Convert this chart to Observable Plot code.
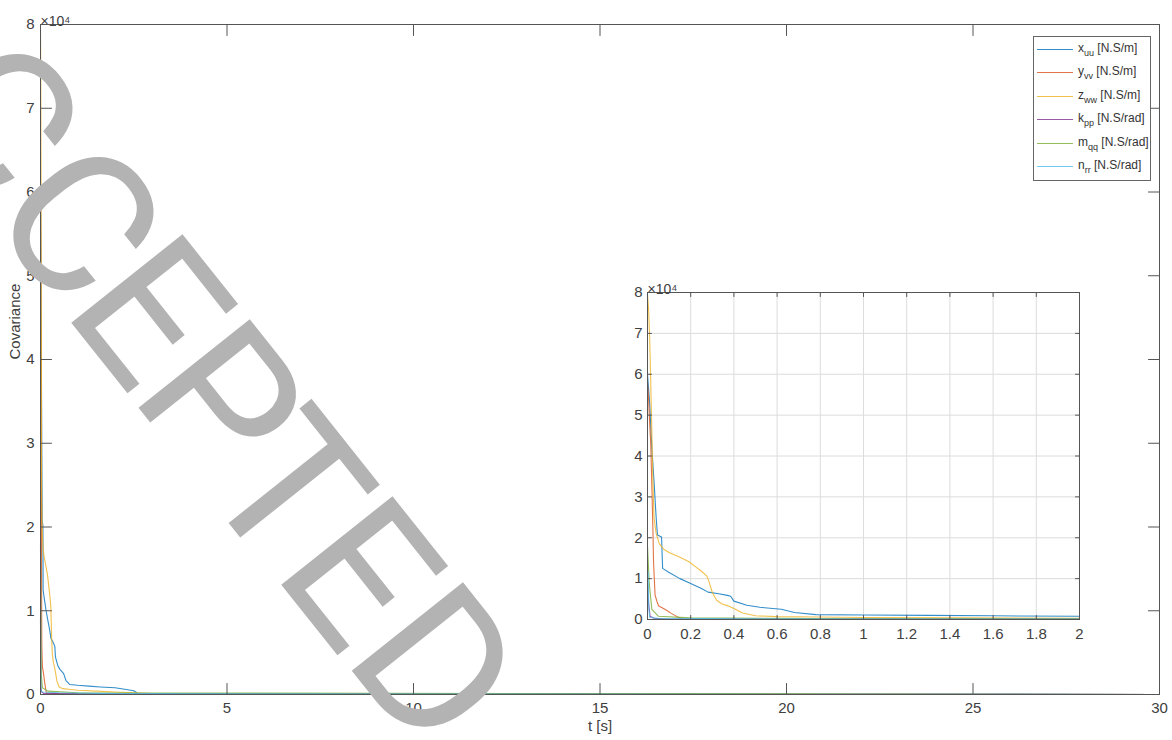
<!DOCTYPE html>
<html>
<head>
<meta charset="utf-8">
<script src="https://cdn.jsdelivr.net/npm/d3@7"></script>
<script src="https://cdn.jsdelivr.net/npm/@observablehq/plot@0.6"></script>
<style>
  html, body { margin: 0; padding: 0; background: #fff; }
  #wrap { position: relative; width: 1172px; height: 740px; overflow: hidden; font-family: "Liberation Sans", Arial, sans-serif; }
  #wrap > * { position: absolute; }
  #legend { left: 1033px; top: 36px; width: 116px; height: 143px; border: 1px solid #666; background: #fff; font-size: 12px; color: #333; }
  .row { position: absolute; left: 0; height: 20px; width: 116px; }
  .row svg { position: absolute; left: 3px; top: 9px; }
  .row span { position: absolute; left: 44px; top: 2px; white-space: nowrap; }
  .row sub { font-size: 9px; vertical-align: -4px; }
</style>
</head>
<body>
<div id="wrap"></div>
<script>
// ---- data (values in units of 10^4) ----
const seriesNames = ["x_uu", "y_vv", "z_ww", "k_pp", "m_qq", "n_rr"];
const seriesUnits = ["[N.S/m]", "[N.S/m]", "[N.S/m]", "[N.S/rad]", "[N.S/rad]", "[N.S/rad]"];
const seriesColors = ["#0072BD", "#D95319", "#EDB120", "#7E2F8E", "#77AC30", "#4DBEEE"];

const tXuu = [0,0.01,0.02,0.03,0.04,0.046,0.065,0.07,0.1,0.15,0.2,0.25,0.28,0.33,0.37,0.385,0.4,0.46,0.52,0.58,0.62,0.68,0.78,1.0,1.3,1.6,2.0,2.3,2.5,2.6,5,10,30];
const xuu  = [6.0,5.3,4.2,3.4,2.5,2.07,2.02,1.25,1.15,1.0,0.88,0.76,0.67,0.63,0.59,0.57,0.45,0.35,0.3,0.27,0.25,0.17,0.12,0.11,0.1,0.09,0.08,0.06,0.045,0.015,0.01,0.005,0];

const tYvv = [0,0.005,0.01,0.015,0.02,0.025,0.028,0.035,0.045,0.052,0.07,0.09,0.11,0.137,0.16,0.5,30];
const yvv  = [5.8,5.4,4.8,4.3,3.3,2.2,1.4,0.6,0.42,0.33,0.28,0.22,0.15,0.07,0.02,0.01,0];

const tZww = [0,0.005,0.01,0.015,0.02,0.025,0.03,0.04,0.055,0.075,0.1,0.15,0.19,0.22,0.25,0.275,0.285,0.3,0.32,0.345,0.37,0.4,0.44,0.5,0.6,0.8,1.0,1.5,2.0,2.5,3,5,30];
const zww  = [7.95,7.6,6.9,5.8,4.6,3.4,2.5,2.1,1.85,1.72,1.64,1.52,1.42,1.3,1.18,1.06,0.92,0.66,0.47,0.38,0.34,0.27,0.16,0.09,0.07,0.06,0.05,0.04,0.03,0.02,0.01,0.005,0];

const tKpp = [0,0.005,0.012,0.03,0.1,30];
const kpp  = [0.9,0.4,0.08,0.03,0.01,0];

const tMqq = [0,0.008,0.02,0.05,0.2,1,30];
const mqq  = [1.8,0.9,0.25,0.08,0.04,0.02,0];

const tNrr = [0,0.003,0.006,0.01,0.05,0.5,2,30];
const nrr  = [1.2,1.15,0.3,0.05,0.03,0.02,0.01,0];

const mainXTicks = [0,5,10,15,20,25,30];
const yTicks = [0,1,2,3,4,5,6,7,8];
const insetXTicks = [0,0.2,0.4,0.6,0.8,1,1.2,1.4,1.6,1.8,2];

const watermarkText = "ACCEPTED";

// ---- build table ----
const times = [tXuu, tYvv, tZww, tKpp, tMqq, tNrr];
const vals = [xuu, yvv, zww, kpp, mqq, nrr];
const rows = [];
seriesNames.forEach((name, i) => {
  times[i].forEach((t, j) => rows.push({series: name, t, v: vals[i][j]}));
});

const tickShape = {draw(context, l) { context.moveTo(0, 0); context.lineTo(0, -l); }};
const font = "'Liberation Sans', Arial, sans-serif";

function boxTicks(xt, yt, xmax, ymax, len, stroke) {
  const o = {length: len, anchor: "start", shape: tickShape, stroke, strokeWidth: 1};
  return [
    Plot.vector(xt, {...o, x: d => d, y: () => 0, rotate: 0}),
    Plot.vector(xt, {...o, x: d => d, y: () => ymax, rotate: 180}),
    Plot.vector(yt, {...o, x: () => 0, y: d => d, rotate: 90}),
    Plot.vector(yt, {...o, x: () => xmax, y: d => d, rotate: -90})
  ];
}

const colorScale = {domain: seriesNames, range: seriesColors};

const main = Plot.plot({
  width: 1172, height: 740,
  marginLeft: 40, marginRight: 13, marginTop: 24, marginBottom: 46,
  style: {fontFamily: font, fontSize: "15px", color: "#404040", background: "transparent", overflow: "visible"},
  x: {domain: [0, 30]},
  y: {domain: [0, 8]},
  color: colorScale,
  marks: [
    Plot.line(rows, {x: "t", y: "v", z: "series", stroke: "series", strokeWidth: 1.1, strokeOpacity: 0.8}),
    Plot.frame({stroke: "#555"}),
    ...boxTicks(mainXTicks, yTicks, 30, 8, 11, "#555"),
    Plot.axisX({ticks: mainXTicks, tickSize: 0, tickPadding: 8, label: null}),
    Plot.axisY({ticks: yTicks, tickSize: 0, tickPadding: 6, label: null}),
    Plot.text(["t [s]"], {frameAnchor: "bottom", dy: 36, fontSize: 15, fill: "#404040"}),
    Plot.text(["Covariance"], {frameAnchor: "left", dx: -25, rotate: -90, fontSize: 15, fill: "#404040"}),
    Plot.text(["×10⁴"], {frameAnchor: "top-left", textAnchor: "start", dy: -8, dx: 0, fontSize: 14, fill: "#404040"})
  ]
});

const inset = Plot.plot({
  width: 490, height: 380,
  marginLeft: 47, marginRight: 11, marginTop: 22, marginBottom: 31,
  style: {fontFamily: font, fontSize: "15px", color: "#404040", background: "#fff", overflow: "visible"},
  x: {domain: [0, 2]},
  y: {domain: [0, 8]},
  color: colorScale,
  marks: [
    Plot.gridX(insetXTicks, {stroke: "#dcdcdc", strokeOpacity: 1}),
    Plot.gridY(yTicks, {stroke: "#dcdcdc", strokeOpacity: 1}),
    Plot.line(rows, {x: "t", y: "v", z: "series", stroke: "series", strokeWidth: 1.1, strokeOpacity: 0.8, clip: true}),
    Plot.frame({stroke: "#555"}),
    ...boxTicks(insetXTicks, yTicks, 2, 8, 4, "#555"),
    Plot.axisX({ticks: insetXTicks, tickSize: 0, tickPadding: 9, label: null, tickFormat: d => String(d)}),
    Plot.axisY({ticks: yTicks, tickSize: 0, tickPadding: 5, label: null}),
    Plot.text(["×10⁴"], {frameAnchor: "top-left", textAnchor: "start", dy: -8, dx: 0, fontSize: 14, fill: "#404040"})
  ]
});

const wrap = document.getElementById("wrap");
main.style.left = "0px"; main.style.top = "0px";
wrap.appendChild(main);
const insetDiv = document.createElement("div");
insetDiv.style.left = "600px"; insetDiv.style.top = "270px";
insetDiv.appendChild(inset);
wrap.appendChild(insetDiv);

// legend
const legend = document.createElement("div");
legend.id = "legend";
seriesNames.forEach((name, i) => {
  const [base, sub] = name.split("_");
  const r = document.createElement("div");
  r.className = "row";
  r.style.top = (2 + i * 23.4) + "px";
  r.innerHTML = `<svg width="38" height="3"><line x1="0" y1="1.5" x2="36" y2="1.5" stroke="${seriesColors[i]}" stroke-opacity="0.8" stroke-width="1.2"/></svg><span>${base}<sub>${sub}</sub> ${seriesUnits[i]}</span>`;
  legend.appendChild(r);
});
wrap.appendChild(legend);

// watermark overlay (letter centres along a diagonal)
const wmCenters = [[-81, 16], [0, 118], [81, 221], [152, 310], [223, 400], [290, 486], [362, 572], [438, 665]];
const wm = d3.create("svg").attr("width", 1172).attr("height", 740)
  .style("left", "0px").style("top", "0px").style("pointer-events", "none");
wm.selectAll("text").data(watermarkText.split("")).join("text")
  .attr("transform", (d, i) => `translate(${wmCenters[i][0]},${wmCenters[i][1]}) rotate(51.5)`)
  .attr("text-anchor", "middle")
  .attr("dy", "0.355em")
  .attr("font-family", "Roboto, 'Liberation Sans', sans-serif")
  .attr("font-weight", 400)
  .attr("font-size", 200)
  .attr("fill", "#b3b3b3")
  .text(d => d);
wrap.appendChild(wm.node());
</script>
</body>
</html>
